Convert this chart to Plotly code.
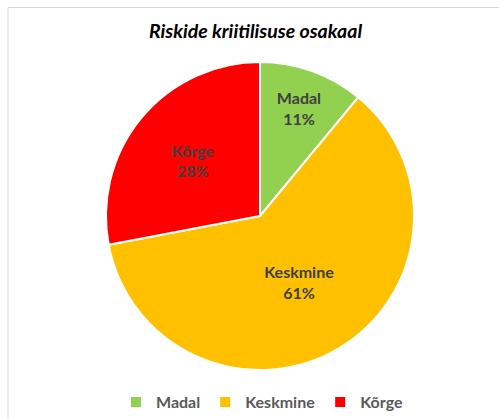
import plotly.graph_objects as go

labels = ["Madal", "Keskmine", "Kõrge"]
values = [11, 61, 28]
colors = ["#92D050", "#FFC000", "#FF0000"]
title_text = "Riskide kriitilisuse osakaal"

W, H = 499, 419
slice_font = dict(family="Lato", size=16, color="#404040", weight="bold")
fig = go.Figure()
fig.add_trace(go.Pie(
    labels=labels,
    values=values,
    sort=False,
    direction="clockwise",
    rotation=0,
    marker=dict(colors=colors, line=dict(color="white", width=2)),
    texttemplate="<b>%{label}<br>%{percent:.0%}</b>",
    textposition="inside",
    insidetextorientation="horizontal",
    textfont=slice_font,
    insidetextfont=slice_font,
    domain=dict(x=[106 / W, 414 / W], y=[1 - 370 / H, 1 - 62 / H]),
    hoverinfo="label+percent",
))

fig.update_layout(
    width=W, height=H,
    margin=dict(l=0, r=0, t=0, b=0),
    paper_bgcolor="white",
    title=dict(text="<b><i>" + title_text + "</i></b>", x=0.512, xanchor="center",
               y=1 - 31 / H, yanchor="middle",
               font=dict(family="Lato", size=19.5, color="#000000")),
    legend=dict(orientation="h", x=0.525, xanchor="center", y=1 - 402 / H, yanchor="middle",
                font=dict(family="Lato", size=16, color="#595959", weight="bold"),
                itemwidth=30, traceorder="normal"),
    shapes=[dict(type="rect", xref="paper", yref="paper",
                 x0=8 / W, x1=1.02, y0=-0.02, y1=1 - 7.5 / H,
                 line=dict(color="#D9D9D9", width=1), layer="below")],
)

fig.write_html("out.html")
